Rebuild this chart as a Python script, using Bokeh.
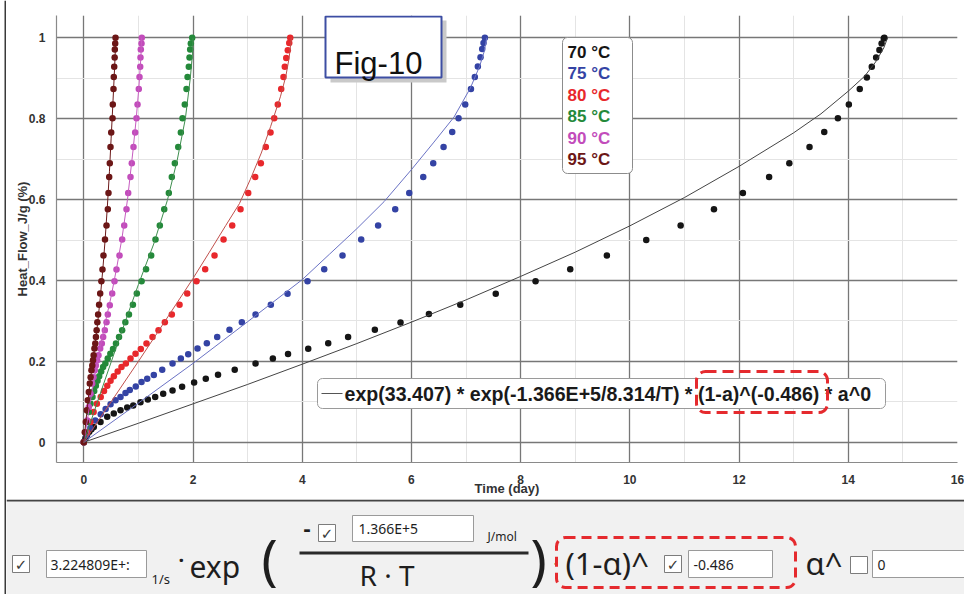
from bokeh.plotting import figure
from bokeh.models import (Range1d, SingleIntervalTicker, BoxAnnotation, Label,
                          NumeralTickFormatter)
from bokeh.layouts import column, row
from bokeh.embed import file_html
from bokeh.resources import INLINE

# ---------------- data ----------------
series_names = ["70 °C", "75 °C", "80 °C", "85 °C", "90 °C", "95 °C"]

time_70 = [0, 0.03, 0.06, 0.1, 0.14, 0.183, 0.306, 0.429, 0.549, 0.672, 0.795, 0.905, 1.038, 1.172,
           1.307, 1.454, 1.625, 1.80, 2.02, 2.234, 2.458, 2.764, 3.145, 3.462, 3.74, 4.11, 4.476,
           4.84, 5.33, 5.80, 6.32, 6.894, 7.544, 8.273, 8.908, 9.579, 10.30, 10.93, 11.54, 12.07,
           12.55, 12.92, 13.29, 13.56, 13.81, 14.01, 14.21, 14.34, 14.43, 14.51, 14.57, 14.61,
           14.65, 14.66]
heat_70 = [0, 0.01, 0.018, 0.026, 0.032, 0.038, 0.050, 0.063, 0.071, 0.079, 0.086, 0.091, 0.099,
           0.106, 0.112, 0.120, 0.128, 0.137, 0.148, 0.157, 0.167, 0.179, 0.195, 0.207, 0.218,
           0.231, 0.245, 0.260, 0.278, 0.296, 0.317, 0.340, 0.367, 0.398, 0.428, 0.462, 0.500,
           0.536, 0.576, 0.616, 0.656, 0.690, 0.730, 0.767, 0.801, 0.835, 0.873, 0.902, 0.928,
           0.951, 0.970, 0.986, 0.998, 1.0]

time_75 = [0, 0.05, 0.12, 0.21, 0.31, 0.40, 0.49, 0.581, 0.672, 0.764, 0.842, 0.952, 1.057, 1.161,
           1.282, 1.436, 1.625, 1.777, 1.912, 2.082, 2.253, 2.443, 2.668, 2.894, 3.145, 3.425,
           3.731, 4.097, 4.403, 4.738, 5.08, 5.39, 5.703, 5.96, 6.216, 6.399, 6.588, 6.747, 6.863,
           6.985, 7.09, 7.161, 7.216, 7.265, 7.296, 7.32, 7.345]
heat_75 = [0, 0.017, 0.035, 0.054, 0.069, 0.082, 0.094, 0.104, 0.112, 0.122, 0.129, 0.138, 0.149,
           0.157, 0.166, 0.179, 0.1945, 0.207, 0.2176, 0.2316, 0.245, 0.260, 0.278, 0.297, 0.316,
           0.340, 0.367, 0.398, 0.428, 0.462, 0.501, 0.536, 0.576, 0.616, 0.656, 0.690, 0.730,
           0.767, 0.801, 0.835, 0.873, 0.903, 0.929, 0.952, 0.972, 0.987, 1.0]

time_80 = [0, 0.06, 0.12, 0.18, 0.24, 0.31, 0.37, 0.43, 0.49, 0.55, 0.62, 0.69, 0.77, 0.855, 0.947,
           1.044, 1.148, 1.258, 1.368, 1.484, 1.612, 1.753, 1.894, 2.064, 2.223, 2.394, 2.559,
           2.718, 2.87, 3.011, 3.139, 3.242, 3.333, 3.419, 3.487, 3.553, 3.615, 3.657, 3.681,
           3.707, 3.736, 3.762, 3.78]
heat_80 = [0, 0.025, 0.05, 0.075, 0.095, 0.112, 0.127, 0.14, 0.152, 0.163, 0.175, 0.186, 0.1945,
           0.207, 0.219, 0.2307, 0.244, 0.26, 0.277, 0.297, 0.316, 0.34, 0.3676, 0.398, 0.428,
           0.462, 0.501, 0.536, 0.576, 0.616, 0.656, 0.69, 0.73, 0.766, 0.801, 0.835, 0.873, 0.903,
           0.928, 0.950, 0.969, 0.987, 1.0]

time_85 = [0, 0.031, 0.062, 0.092, 0.123, 0.159, 0.19, 0.221, 0.251, 0.282, 0.318, 0.354, 0.395,
           0.438, 0.486, 0.535, 0.589, 0.645, 0.702, 0.761, 0.827, 0.899, 0.971, 1.058, 1.14,
           1.234, 1.313, 1.392, 1.473, 1.557, 1.612, 1.667, 1.729, 1.777, 1.808, 1.85, 1.881, 1.9,
           1.923, 1.936, 1.948, 1.96, 1.985]
heat_85 = [0, 0.025, 0.05, 0.075, 0.095, 0.112, 0.127, 0.14, 0.152, 0.163, 0.175, 0.186, 0.1945,
           0.207, 0.219, 0.2307, 0.244, 0.26, 0.277, 0.297, 0.316, 0.34, 0.3676, 0.398, 0.428,
           0.462, 0.501, 0.536, 0.576, 0.616, 0.656, 0.69, 0.73, 0.766, 0.801, 0.835, 0.873, 0.903,
           0.928, 0.951, 0.971, 0.986, 1.0]

time_90 = [0, 0.031, 0.062, 0.092, 0.123, 0.154, 0.178, 0.201, 0.22, 0.245, 0.269, 0.3, 0.33,
           0.355, 0.385, 0.416, 0.44, 0.476, 0.52, 0.562, 0.599, 0.654, 0.703, 0.74, 0.782, 0.813,
           0.855, 0.879, 0.91, 0.941, 0.965, 0.984, 1.007, 1.02, 1.033, 1.038, 1.044, 1.057, 1.062]
heat_90 = [0, 0.025, 0.054, 0.087, 0.12, 0.145, 0.161, 0.178, 0.19, 0.203, 0.215, 0.2316, 0.244,
           0.26, 0.277, 0.297, 0.316, 0.339, 0.3676, 0.398, 0.427, 0.462, 0.501, 0.536, 0.576,
           0.616, 0.656, 0.69, 0.73, 0.766, 0.801, 0.835, 0.873, 0.903, 0.928, 0.951, 0.971,
           0.986, 1.0]

time_95 = [0, 0.018, 0.037, 0.055, 0.073, 0.092, 0.11, 0.125, 0.14, 0.155, 0.168, 0.18, 0.195,
           0.21, 0.222, 0.235, 0.248, 0.262, 0.28, 0.3, 0.322, 0.342, 0.36, 0.388, 0.416, 0.44,
           0.452, 0.465, 0.476, 0.489, 0.502, 0.526, 0.531, 0.544, 0.549, 0.557, 0.565, 0.568,
           0.575, 0.581]
heat_95 = [0, 0.025, 0.05, 0.079, 0.104, 0.124, 0.145, 0.161, 0.178, 0.19, 0.203, 0.215, 0.2316,
           0.244, 0.26, 0.277, 0.297, 0.316, 0.34, 0.3676, 0.398, 0.427, 0.462, 0.501, 0.536,
           0.576, 0.616, 0.656, 0.69, 0.73, 0.766, 0.801, 0.835, 0.873, 0.903, 0.928, 0.951, 0.971,
           0.986, 1.0]

# fitted model curves
fit_time_70 = [0, 1, 2, 3, 4, 5, 6, 7, 8, 9, 10, 11, 12, 13, 13.5, 14, 14.3, 14.5, 14.65, 14.72]
fit_heat_70 = [0, 0.047, 0.095, 0.143, 0.193, 0.244, 0.297, 0.352, 0.41, 0.47, 0.535, 0.605,
               0.682, 0.765, 0.812, 0.868, 0.905, 0.94, 0.975, 1.0]
fit_time_75 = [0, 1, 2, 3, 4, 4.5, 5, 5.5, 6, 6.4, 6.78, 7.08, 7.25, 7.33, 7.38]
fit_heat_75 = [0, 0.097, 0.195, 0.298, 0.402, 0.465, 0.528, 0.595, 0.674, 0.74, 0.804, 0.876,
               0.93, 0.965, 1.0]
fit_time_80 = [0, 0.5, 1, 1.5, 2, 2.3, 2.6, 2.85, 3.05, 3.25, 3.42, 3.6, 3.7, 3.76, 3.79, 3.8]
fit_heat_80 = [0, 0.1, 0.2, 0.302, 0.405, 0.47, 0.536, 0.59, 0.65, 0.715, 0.78, 0.854, 0.905,
               0.95, 0.985, 1.0]
fit_time_85 = [0, 0.25, 0.5, 0.75, 1.0, 1.28, 1.53, 1.71, 1.86, 1.95, 1.99, 2.0]
fit_heat_85 = [0, 0.1, 0.198, 0.295, 0.39, 0.49, 0.598, 0.697, 0.8, 0.9, 0.96, 1.0]
fit_time_90 = [0, 0.1, 0.2, 0.3, 0.4, 0.5, 0.6, 0.7, 0.8, 0.9, 0.96, 1.01, 1.045, 1.06]
fit_heat_90 = [0, 0.085, 0.165, 0.235, 0.3, 0.36, 0.43, 0.505, 0.6, 0.72, 0.8, 0.88, 0.95, 1.0]
fit_time_95 = [0, 0.05, 0.1, 0.15, 0.2, 0.25, 0.3, 0.35, 0.39, 0.43, 0.47, 0.5, 0.53, 0.555,
               0.575, 0.585]
fit_heat_95 = [0, 0.068, 0.13, 0.185, 0.235, 0.29, 0.355, 0.43, 0.5, 0.58, 0.67, 0.75, 0.83, 0.9,
               0.96, 1.0]

point_colors = ["#151515", "#3443a4", "#e8282c", "#24893a", "#c24cbb", "#6c1616"]
line_colors = ["#444444", "#6a72c4", "#c0504c", "#3f8f4f", "#c65cc0", "#6c1a1a"]

formula_text = "exp(33.407) * exp(-1.366E+5/8.314/T) * (1-a)^(-0.486) * a^0"
x_label = "Time (day)"
y_label = "Heat_Flow_J/g (%)"


def no_align(fig):
    try:
        fig.frame_align = False
    except Exception:
        pass


def box(fig, **kw):
    kw.setdefault("fill_alpha", 1)
    kw.setdefault("line_alpha", 1)
    fig.add_layout(BoxAnnotation(**kw))


# ---------------- main chart ----------------
STRIP_L, STRIP_T = 6, 2
PANEL_TOP = 499                      # where the lower formula panel starts
X0, X1, Y0, Y1 = -0.5, 16.0, -0.05, 1.055
FL, FR, FT, FB = 56, 957, 15, 462     # frame edges in page pixels


def px(x):
    return X0 + (x - FL) * (X1 - X0) / (FR - FL)


def py(y):
    return Y0 + (FB - y) * (Y1 - Y0) / (FB - FT)


p = figure(width=964 - STRIP_L, height=PANEL_TOP - STRIP_T, x_range=Range1d(X0, X1),
           y_range=Range1d(Y0, Y1), output_backend="svg", toolbar_location=None,
           min_border_left=FL - STRIP_L, min_border_right=964 - FR,
           min_border_top=FT - STRIP_T, min_border_bottom=PANEL_TOP - FB)
no_align(p)
p.outline_line_color = None
p.background_fill_color = "white"
p.border_fill_color = "white"

xt = SingleIntervalTicker(interval=2, num_minor_ticks=2)
yt = SingleIntervalTicker(interval=0.2, num_minor_ticks=2)
p.xaxis.ticker = xt
p.xgrid.ticker = xt
p.yaxis.ticker = yt
p.ygrid.ticker = yt
p.yaxis.formatter = NumeralTickFormatter(format="0.[0]")

for g in (p.xgrid, p.ygrid):
    g.grid_line_color = "#777777"
    g.grid_line_width = 1.3
    g.minor_grid_line_color = "#e4e4e4"
    g.minor_grid_line_width = 1

for ax in (p.xaxis, p.yaxis):
    ax.axis_line_color = "#8a8a8a"
    ax.axis_line_width = 1.2
    ax.major_tick_line_color = None
    ax.minor_tick_line_color = None
    ax.major_tick_out = 0
    ax.major_tick_in = 0
    ax.major_label_text_font = "Liberation Sans"
    ax.major_label_text_font_style = "bold"
    ax.major_label_text_font_size = "12px"
    ax.major_label_text_color = "#333333"
    ax.axis_label_text_font = "Liberation Sans"
    ax.axis_label_text_font_style = "bold"
    ax.axis_label_text_color = "#333333"
    ax.axis_label_text_font_size = "13px"
p.xaxis.major_label_standoff = 8
p.xaxis.axis_label_standoff = -6
p.yaxis.major_label_standoff = 7
p.yaxis.axis_label_standoff = -4
p.xaxis.axis_label = x_label
p.yaxis.axis_label = y_label

all_pts = [(time_70, heat_70), (time_75, heat_75), (time_80, heat_80),
           (time_85, heat_85), (time_90, heat_90), (time_95, heat_95)]
all_fit = [(fit_time_70, fit_heat_70), (fit_time_75, fit_heat_75), (fit_time_80, fit_heat_80),
           (fit_time_85, fit_heat_85), (fit_time_90, fit_heat_90), (fit_time_95, fit_heat_95)]

for (tx, hy), col in zip(all_pts, point_colors):
    p.scatter(tx, hy, size=6.5, fill_color=col, line_color=None)
for (tx, hy), col in zip(all_fit, line_colors):
    p.line(tx, hy, line_color=col, line_width=1)

# "Fig-10" box with shadow
box(p, left=px(330), right=px(446), top=py(20), bottom=py(82), fill_color="#c9c9c9",
    line_color=None)
box(p, left=px(325), right=px(441), top=py(16), bottom=py(77), fill_color="white",
    line_color="#3d4ea3", line_width=2)
p.add_layout(Label(x=px(334), y=py(63), text="Fig-10", text_font="Liberation Sans",
                   text_font_size="31px", text_color="#111111", text_baseline="alphabetic"))

# temperature legend
box(p, left=px(562), right=px(632), top=py(37), bottom=py(173), fill_color="white",
    line_color="#8c8c8c", line_width=1, border_radius=5)
for i, (name, col) in enumerate(zip(series_names, point_colors)):
    p.add_layout(Label(x=px(567), y=py(52 + i * 21.4), text=name, text_font="Liberation Sans",
                       text_font_style="bold", text_font_size="17px", text_color=col,
                       text_baseline="middle"))

# formula legend
box(p, left=px(317), right=px(885), top=py(378), bottom=py(408), fill_color="white",
    line_color="#9a9a9a", line_width=1, border_radius=5)
box(p, left=px(321), right=px(342), top=py(392.5), bottom=py(393.5), fill_color="#555555",
    line_color=None)
p.add_layout(Label(x=px(344), y=py(393), text=formula_text, text_font="Liberation Sans",
                   text_font_style="bold", text_font_size="19.6px", text_color="#1a1a1a",
                   text_baseline="middle"))
box(p, left=px(696), right=px(827), top=py(371), bottom=py(412), fill_alpha=0,
    line_color="#e52a2e", line_width=3, line_dash="11 6", border_radius=9)

# ---------------- page frame strips ----------------
left_strip = figure(width=STRIP_L, height=594, x_range=Range1d(0, STRIP_L),
                    y_range=Range1d(0, 594), output_backend="svg", toolbar_location=None,
                    min_border=0, x_axis_location=None, y_axis_location=None)
no_align(left_strip)
left_strip.grid.visible = False
left_strip.outline_line_color = None
left_strip.background_fill_color = "white"
left_strip.border_fill_color = "white"
box(left_strip, left=4, right=6, bottom=0, top=594, fill_color="#3a3a3a", line_color=None)

top_strip = figure(width=964 - STRIP_L, height=STRIP_T, x_range=Range1d(0, 1),
                   y_range=Range1d(0, 1), output_backend="svg", toolbar_location=None,
                   min_border=0, x_axis_location=None, y_axis_location=None)
no_align(top_strip)
top_strip.grid.visible = False
top_strip.outline_line_color = None
top_strip.background_fill_color = "#3a3a3a"
top_strip.border_fill_color = "#3a3a3a"

# ---------------- bottom formula panel ----------------
q = figure(width=964 - STRIP_L, height=594 - PANEL_TOP, x_range=Range1d(STRIP_L, 964),
           y_range=Range1d(594, PANEL_TOP), output_backend="svg", toolbar_location=None,
           min_border=0, x_axis_location=None, y_axis_location=None)
no_align(q)
q.grid.visible = False
q.outline_line_color = None
q.background_fill_color = "#f1f1f1"
q.border_fill_color = "#f1f1f1"


def rect(left, right, top, bottom, fill="white", line="#9a9a9a", lw=1, **kw):
    box(q, left=left, right=right, top=top, bottom=bottom, fill_color=fill,
        line_color=line, line_width=lw, **kw)


def text(x, y, s, size, font="Noto Sans", color="#1e1e1e", style="normal", align="left"):
    q.add_layout(Label(x=x, y=y, text=s, text_font=font, text_font_size=size,
                       text_color=color, text_font_style=style, text_align=align,
                       text_baseline="middle"))


def checkbox(x, y, checked=True):
    rect(x, x + 17, y, y + 17, line="#7c7c7c")
    if checked:
        text(x + 8.5, y + 9, "✓", "15px", font="DejaVu Sans", color="#3a3a3a", align="center")


rect(STRIP_L, 964, PANEL_TOP, PANEL_TOP + 2, fill="#444444", line=None)

checkbox(12, 555)
rect(46, 146, 550, 577)
text(50, 564, "3.224809E+:", "14px")
text(151, 578, "1/s", "13px")
text(178, 559, "·", "20px", style="bold")
text(189, 566, "exp", "30px")
text(261, 557, "(", "54px")
text(303, 528, "-", "22px", style="bold")
checkbox(318, 524)
rect(352, 473, 515, 541)
text(358, 528, "1.366E+5", "14px")
text(487, 536, "J/mol", "12px")
rect(299, 528, 551, 554, fill="#2a2a2a", line=None)
text(359, 574, "R · T", "28px")
text(530, 557, ")", "54px")
text(553, 563, "·", "16px")
rect(556, 795, 537, 587, fill_alpha=0, line="#e52a2e", lw=3, line_dash="10 6",
     border_radius=9)
text(565, 562, "(1-α)^", "31px")
checkbox(664, 555)
rect(688, 772, 550, 577)
text(693, 564, "-0.486", "14px")
text(805, 562, "α^", "31px")
checkbox(850, 556, checked=False)
rect(872, 970, 550, 577)
text(877, 564, "0", "14px")

layout = row(left_strip, column(top_strip, p, q, spacing=0), spacing=0)
open("out.html", "w").write(file_html(layout, INLINE))
